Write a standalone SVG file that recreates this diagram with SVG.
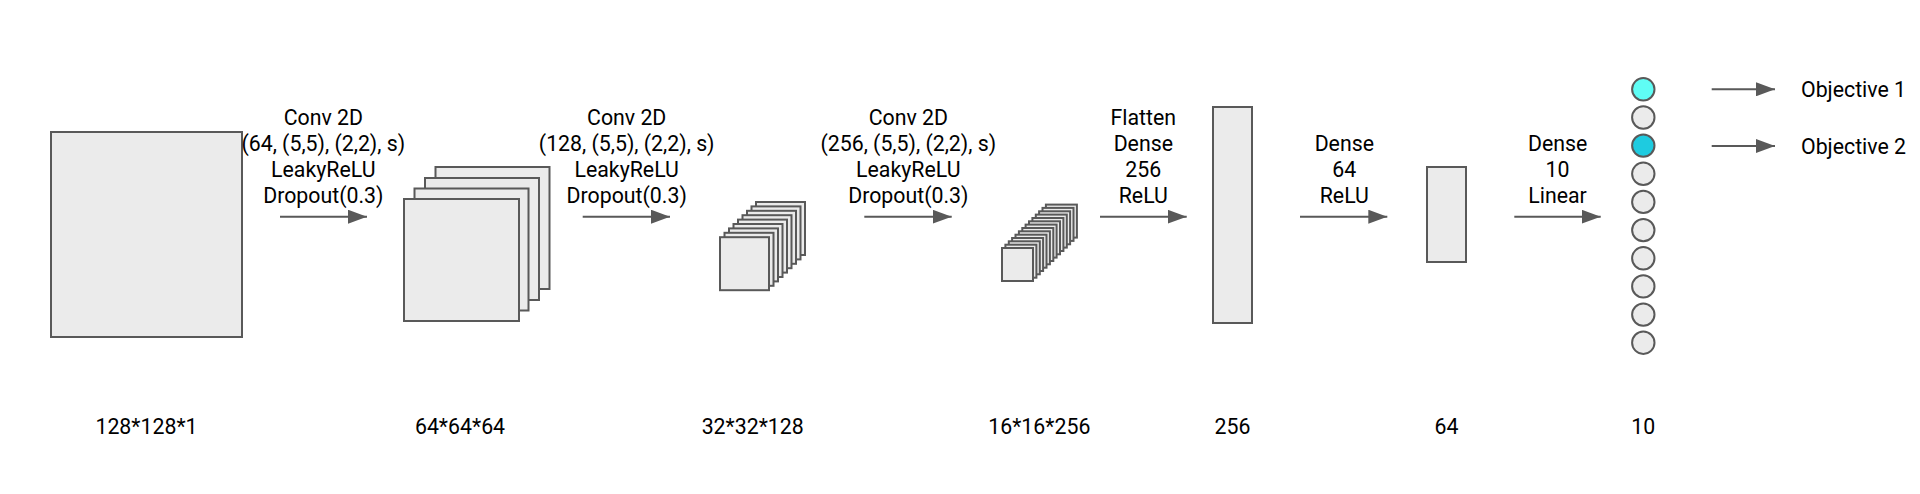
<svg xmlns="http://www.w3.org/2000/svg" width="1920" height="494" viewBox="0 0 1920 494">
<defs>
<style>
text{font-family:Roboto,"Liberation Sans",sans-serif;font-size:21.3px;fill:#000;}
.c{text-anchor:middle;}
.b{fill:#ebebeb;stroke:#595959;stroke-width:2;}
.a{stroke:#595959;stroke-width:2;fill:none;marker-end:url(#ah);}
</style>
<marker id="ah" markerUnits="userSpaceOnUse" markerWidth="20" markerHeight="14" refX="19" refY="7" orient="auto">
<path d="M0,0 L19,7 L0,14 Z" fill="#595959"/>
</marker>
</defs>
<rect width="1920" height="494" fill="#fff"/>

<g id="input">
<rect class="b" x="51" y="132" width="191" height="205"/>
<text class="c" x="146.5" y="434">128*128*1</text>
</g>

<g id="conv1">
<rect class="b" x="435.5" y="167" width="114" height="122"/>
<rect class="b" x="425" y="178" width="114" height="122"/>
<rect class="b" x="414.5" y="188.5" width="114" height="122"/>
<rect class="b" x="404" y="199" width="115" height="122"/>
<text class="c" x="460" y="434">64*64*64</text>
</g>

<g id="conv2">
<rect class="b" x="756" y="202" width="49" height="53"/>
<rect class="b" x="751.5" y="206.4" width="49" height="53"/>
<rect class="b" x="747" y="210.8" width="49" height="53"/>
<rect class="b" x="742.5" y="215.2" width="49" height="53"/>
<rect class="b" x="738" y="219.6" width="49" height="53"/>
<rect class="b" x="733.5" y="224" width="49" height="53"/>
<rect class="b" x="729" y="228.4" width="49" height="53"/>
<rect class="b" x="724.5" y="232.8" width="49" height="53"/>
<rect class="b" x="720" y="237.2" width="49" height="53"/>
<text class="c" x="752.7" y="434">32*32*128</text>
</g>

<g id="conv3">
<rect class="b" x="1045.9" y="204.6" width="31" height="33"/>
<rect class="b" x="1042.5" y="207.9" width="31" height="33"/>
<rect class="b" x="1039.1" y="211.3" width="31" height="33"/>
<rect class="b" x="1035.8" y="214.6" width="31" height="33"/>
<rect class="b" x="1032.4" y="218" width="31" height="33"/>
<rect class="b" x="1029" y="221.3" width="31" height="33"/>
<rect class="b" x="1025.6" y="224.6" width="31" height="33"/>
<rect class="b" x="1022.3" y="228" width="31" height="33"/>
<rect class="b" x="1018.9" y="231.3" width="31" height="33"/>
<rect class="b" x="1015.5" y="234.7" width="31" height="33"/>
<rect class="b" x="1012.1" y="238" width="31" height="33"/>
<rect class="b" x="1008.8" y="241.3" width="31" height="33"/>
<rect class="b" x="1005.4" y="244.7" width="31" height="33"/>
<rect class="b" x="1002" y="248" width="31" height="33"/>
<text class="c" x="1039.3" y="434">16*16*256</text>
</g>

<g id="dense256">
<rect class="b" x="1213" y="107" width="39" height="216"/>
<text class="c" x="1232.5" y="434">256</text>
</g>

<g id="dense64">
<rect class="b" x="1427" y="167" width="39" height="95"/>
<text class="c" x="1446.5" y="434">64</text>
</g>

<g id="output">
<circle cx="1643.3" cy="89.3" r="11.2" fill="#5ffdf5" stroke="#595959" stroke-width="2"/>
<circle cx="1643.3" cy="117.5" r="11.2" class="b"/>
<circle cx="1643.3" cy="145.6" r="11.2" fill="#1ecbe0" stroke="#595959" stroke-width="2"/>
<circle cx="1643.3" cy="173.8" r="11.2" class="b"/>
<circle cx="1643.3" cy="201.9" r="11.2" class="b"/>
<circle cx="1643.3" cy="230.1" r="11.2" class="b"/>
<circle cx="1643.3" cy="258.3" r="11.2" class="b"/>
<circle cx="1643.3" cy="286.4" r="11.2" class="b"/>
<circle cx="1643.3" cy="314.6" r="11.2" class="b"/>
<circle cx="1643.3" cy="342.7" r="11.2" class="b"/>
<text class="c" x="1643.3" y="434">10</text>
</g>

<g id="obj1"><text x="1801" y="97">Objective 1</text></g>
<g id="obj2"><text x="1801" y="153.5">Objective 2</text></g>

<g id="labels">
<text class="c" x="323.3" y="125">Conv 2D</text>
<text class="c" x="323.3" y="151">(64, (5,5), (2,2), s)</text>
<text class="c" x="323.3" y="177">LeakyReLU</text>
<text class="c" x="323.3" y="203">Dropout(0.3)</text>

<text class="c" x="626.7" y="125">Conv 2D</text>
<text class="c" x="626.7" y="151">(128, (5,5), (2,2), s)</text>
<text class="c" x="626.7" y="177">LeakyReLU</text>
<text class="c" x="626.7" y="203">Dropout(0.3)</text>

<text class="c" x="908.3" y="125">Conv 2D</text>
<text class="c" x="908.3" y="151">(256, (5,5), (2,2), s)</text>
<text class="c" x="908.3" y="177">LeakyReLU</text>
<text class="c" x="908.3" y="203">Dropout(0.3)</text>

<text class="c" x="1143.3" y="125">Flatten</text>
<text class="c" x="1143.3" y="151">Dense</text>
<text class="c" x="1143.3" y="177">256</text>
<text class="c" x="1143.3" y="203">ReLU</text>

<text class="c" x="1344.3" y="151">Dense</text>
<text class="c" x="1344.3" y="177">64</text>
<text class="c" x="1344.3" y="203">ReLU</text>

<text class="c" x="1557.6" y="151">Dense</text>
<text class="c" x="1557.6" y="177">10</text>
<text class="c" x="1557.6" y="203">Linear</text>
</g>

<g id="connectors">
<line class="a" x1="280" y1="216.7" x2="367" y2="216.7"/>
<line class="a" x1="582.7" y1="216.7" x2="670" y2="216.7"/>
<line class="a" x1="864.3" y1="216.7" x2="951.7" y2="216.7"/>
<line class="a" x1="1100" y1="216.7" x2="1186.7" y2="216.7"/>
<line class="a" x1="1300" y1="216.7" x2="1387.3" y2="216.7"/>
<line class="a" x1="1514.3" y1="216.7" x2="1600.7" y2="216.7"/>
<line class="a" x1="1711.7" y1="89.3" x2="1775" y2="89.3"/>
<line class="a" x1="1711.7" y1="146" x2="1775" y2="146"/>
</g>
</svg>
